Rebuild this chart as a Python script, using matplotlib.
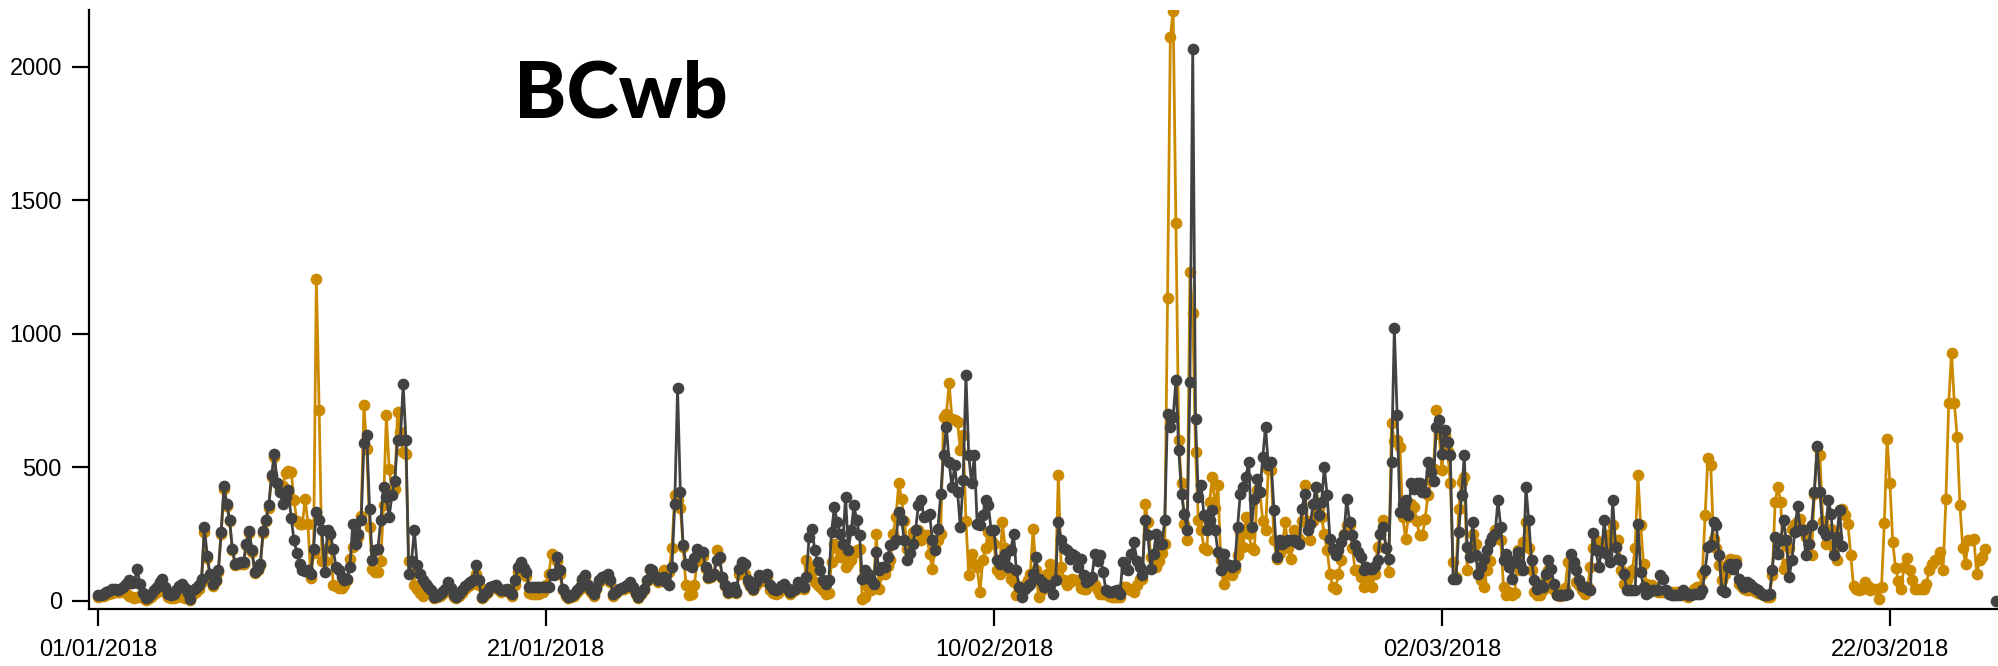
import numpy as np
import pandas as pd
import matplotlib
matplotlib.use('Agg')
import matplotlib.pyplot as plt
import matplotlib.dates as mdates

# ---------------- data (3-hourly samples starting 01/01/2018 00:00) ----------------
start_time = '2018-01-01 00:00'
step = '3h'
n_steps = 679

title_text = 'BCwb'

# dark grey series
dark_values = [
    21, 24, 27, 33, 38, 46, 44, 40,
    45, 52, 65, 77, 68, 70, 121, 65,
    30, 10, 15, 27, 40, 52, 70, 83,
    52, 25, 22, 27, 40, 55, 65, 50,
    30, 8, 40, 50, 60, 83, 277, 170,
    100, 62, 80, 115, 258, 430, 365, 305,
    195, 140, 143, 146, 146, 215, 262, 190,
    110, 120, 140, 262, 305, 358, 471, 552,
    440, 408, 365, 390, 415, 310, 230, 180,
    140, 115, 112, 115, 102, 196, 333, 302,
    265, 108, 265, 252, 196, 127, 115, 90,
    77, 83, 127, 290, 215, 252, 302, 590,
    621, 346, 152, 190, 196, 302, 427, 390,
    315, 396, 450, 602, 602, 812, 602, 100,
    150, 265, 135, 100, 77, 64, 52, 40,
    15, 20, 27, 35, 46, 71, 50, 21,
    15, 25, 40, 55, 65, 70, 77, 133,
    77, 15, 25, 33, 52, 55, 58, 50,
    40, 43, 46, 35, 27, 77, 127, 146,
    125, 108, 52, 52, 52, 52, 52, 52,
    52, 52, 102, 96, 165, 115, 46, 25,
    15, 20, 27, 40, 52, 83, 96, 58,
    40, 27, 50, 77, 90, 95, 102, 77,
    27, 35, 46, 50, 52, 60, 71, 52,
    30, 15, 30, 46, 80, 121, 115, 95,
    77, 85, 90, 70, 58, 127, 365, 796,
    408, 208, 140, 135, 127, 160, 196, 183,
    183, 127, 90, 95, 102, 152, 165, 90,
    60, 33, 45, 52, 33, 120, 146, 140,
    77, 60, 46, 70, 96, 93, 90, 102,
    58, 45, 40, 46, 55, 65, 50, 33,
    40, 46, 71, 60, 52, 90, 240, 271,
    190, 146, 115, 77, 65, 77, 258, 352,
    296, 252, 215, 390, 190, 265, 358, 302,
    246, 83, 115, 102, 80, 65, 183, 115,
    127, 127, 165, 208, 215, 227, 333, 302,
    227, 152, 180, 215, 265, 358, 377, 315,
    320, 327, 230, 190, 271, 400, 546, 652,
    521, 427, 508, 408, 277, 452, 846, 546,
    440, 546, 290, 284, 321, 377, 358, 265,
    265, 152, 140, 150, 177, 127, 190, 252,
    115, 52, 15, 46, 55, 65, 102, 165,
    83, 70, 52, 55, 58, 27, 77, 296,
    227, 200, 190, 158, 177, 170, 127, 158,
    96, 71, 80, 90, 177, 150, 171, 108,
    40, 35, 33, 38, 40, 27, 146, 120,
    115, 177, 221, 150, 127, 96, 302, 246,
    121, 177, 252, 215, 215, 302, 702, 652,
    690, 827, 565, 402, 327, 265, 821, 2068,
    683, 390, 433, 321, 265, 302, 340, 265,
    183, 115, 177, 140, 135, 127, 133, 277,
    402, 427, 465, 521, 277, 383, 458, 408,
    540, 652, 508, 521, 340, 165, 227, 215,
    220, 227, 230, 227, 220, 215, 346, 402,
    265, 290, 365, 427, 321, 371, 502, 396,
    233, 196, 171, 190, 221, 246, 383, 296,
    246, 208, 185, 165, 115, 127, 121, 121,
    130, 152, 252, 277, 200, 158, 521, 1023,
    696, 333, 365, 377, 321, 440, 420, 440,
    440, 408, 408, 521, 483, 450, 652, 677,
    552, 640, 596, 546, 83, 83, 258, 396,
    546, 202, 165, 296, 171, 102, 127, 158,
    190, 221, 240, 252, 377, 277, 152, 177,
    127, 83, 152, 183, 140, 115, 427, 302,
    152, 77, 46, 58, 52, 100, 152, 121,
    65, 21, 21, 21, 24, 27, 177, 146,
    115, 77, 55, 52, 46, 40, 255, 190,
    127, 183, 302, 177, 146, 380, 202, 158,
    152, 102, 40, 40, 40, 40, 290, 108,
    52, 27, 35, 40, 40, 40, 96, 83,
    40, 27, 21, 21, 21, 21, 40, 30,
    21, 24, 27, 27, 27, 40, 115, 202,
    208, 296, 283, 171, 40, 33, 127, 140,
    121, 140, 83, 65, 52, 71, 65, 52,
    45, 40, 30, 21, 24, 27, 117, 240,
    177, 227, 302, 227, 90, 152, 258, 355,
    265, 265, 171, 215, 283, 408, 580, 408,
    265, 246, 377, 327, 171, 240, 340, 205,
]
dark_final_value = 0   # isolated last sample of the dark series

# orange series
orange_values = [
    15, 18, 20, 25, 28, 30, 32, 35,
    35, 40, 30, 20, 15, 10, 15, 20,
    10, 5, 8, 15, 25, 35, 50, 60,
    35, 15, 10, 10, 15, 20, 15, 10,
    20, 5, 25, 35, 45, 70, 260, 160,
    90, 55, 75, 110, 250, 420, 355, 300,
    190, 135, 140, 140, 140, 210, 255, 185,
    105, 115, 135, 255, 300, 350, 465, 540,
    440, 420, 430, 480, 485, 483, 380, 300,
    290, 290, 383, 290, 85, 180, 1205, 717,
    150, 150, 200, 250, 60, 55, 50, 50,
    60, 77, 158, 202, 220, 240, 320, 733,
    571, 277, 121, 110, 108, 150, 358, 696,
    496, 415, 420, 708, 633, 558, 552, 150,
    102, 60, 46, 30, 20, 35, 40, 30,
    10, 15, 20, 25, 35, 55, 40, 15,
    10, 20, 30, 45, 55, 60, 70, 100,
    60, 10, 20, 30, 45, 50, 55, 45,
    35, 40, 40, 30, 20, 60, 110, 130,
    110, 95, 30, 27, 25, 27, 30, 35,
    60, 100, 177, 170, 150, 100, 40, 20,
    10, 15, 20, 35, 45, 75, 90, 50,
    35, 20, 45, 70, 85, 90, 95, 70,
    20, 30, 40, 45, 45, 55, 65, 45,
    25, 10, 25, 40, 75, 115, 110, 90,
    70, 80, 115, 100, 110, 200, 396, 380,
    350, 202, 58, 21, 27, 60, 150, 170,
    170, 120, 85, 90, 100, 190, 160, 85,
    55, 30, 40, 45, 30, 100, 140, 100,
    70, 55, 40, 60, 85, 80, 75, 90,
    40, 30, 25, 30, 40, 50, 40, 25,
    35, 40, 60, 50, 45, 152, 130, 108,
    71, 60, 52, 40, 27, 30, 146, 215,
    200, 165, 170, 127, 140, 152, 180, 190,
    196, 8, 15, 52, 40, 52, 252, 46,
    100, 102, 130, 152, 250, 315, 440, 383,
    300, 196, 230, 258, 265, 265, 227, 246,
    246, 177, 121, 200, 227, 252, 690, 700,
    815, 683, 677, 671, 565, 621, 300, 96,
    177, 140, 127, 33, 152, 200, 258, 230,
    215, 115, 102, 296, 200, 115, 83, 70,
    21, 30, 52, 60, 80, 102, 271, 115,
    15, 40, 80, 100, 140, 115, 90, 471,
    127, 80, 58, 70, 83, 80, 77, 50,
    46, 46, 60, 77, 60, 40, 27, 27,
    27, 20, 15, 15, 15, 15, 52, 52,
    45, 40, 33, 60, 83, 83, 365, 296,
    165, 140, 127, 150, 180, 215, 1133, 2111,
    2211, 1416, 602, 440, 290, 227, 1233, 1078,
    558, 302, 265, 200, 190, 371, 465, 350,
    433, 152, 65, 102, 100, 96, 120, 171,
    258, 202, 315, 250, 200, 190, 415, 408,
    300, 265, 496, 490, 227, 158, 180, 200,
    296, 200, 158, 265, 250, 233, 300, 433,
    300, 227, 300, 427, 350, 315, 250, 190,
    102, 52, 46, 100, 152, 252, 283, 283,
    200, 115, 115, 90, 52, 77, 60, 52,
    100, 202, 250, 302, 200, 108, 665, 600,
    602, 577, 315, 233, 315, 365, 352, 300,
    246, 246, 308, 396, 450, 496, 715, 627,
    490, 621, 560, 440, 146, 90, 346, 446,
    465, 115, 200, 252, 215, 102, 80, 52,
    115, 150, 230, 265, 270, 227, 52, 21,
    33, 21, 30, 190, 115, 221, 296, 200,
    115, 33, 21, 21, 40, 90, 115, 52,
    40, 21, 18, 21, 50, 146, 152, 140,
    71, 58, 40, 27, 52, 127, 200, 227,
    200, 196, 210, 227, 250, 283, 202, 227,
    115, 65, 80, 100, 115, 200, 471, 283,
    140, 65, 60, 58, 45, 33, 33, 33,
    33, 33, 33, 30, 33, 33, 33, 20,
    15, 30, 46, 52, 52, 100, 321, 537,
    508, 233, 200, 133, 77, 100, 140, 158,
    152, 152, 65, 52, 45, 40, 40, 40,
    35, 30, 27, 22, 15, 15, 96, 371,
    427, 371, 121, 140, 200, 271, 290, 300,
    308, 270, 240, 215, 171, 400, 577, 546,
    300, 215, 265, 271, 200, 152, 340, 346,
    321, 290, 171, 55, 45, 40, 46, 71,
    55, 40, 46, 46, 8, 52, 292, 608,
    440, 221, 125, 75, 46, 127, 161, 115,
    77, 46, 46, 46, 46, 65, 115, 137,
    152, 159, 183, 117, 383, 740, 930, 742,
    615, 358, 200, 140, 227, 230, 233, 102,
    152, 165, 196,
]

y_ticks = [0, 500, 1000, 1500, 2000]
x_tick_dates = ['2018-01-01', '2018-01-21', '2018-02-10', '2018-03-02', '2018-03-22']
x_tick_labels = ['01/01/2018', '21/01/2018', '10/02/2018', '02/03/2018', '22/03/2018']

# ---------------- build series ----------------
times = pd.date_range(start_time, periods=n_steps, freq=step)
dark = np.full(n_steps, np.nan)
dark[:len(dark_values)] = dark_values
dark[-1] = dark_final_value
orange = np.full(n_steps, np.nan)
orange[:len(orange_values)] = orange_values

ORANGE = '#CC8A00'
DARK = '#424242'

fig = plt.figure(figsize=(19.98, 6.66), dpi=100)
ax = fig.add_axes([89 / 1998, 1 - 609 / 666, 1 - 89 / 1998, (609 - 10) / 666])

xt = mdates.date2num(times.to_pydatetime())
ax.plot(xt, orange, color=ORANGE, lw=2.0, marker='o', ms=7.4, mec=ORANGE, mfc=ORANGE, zorder=2)
ax.plot(xt, dark, color=DARK, lw=2.0, marker='o', ms=7.4, mec=DARK, mfc=DARK, zorder=3)

t0 = xt[0]
dstep = 3 / 24
ax.set_xlim(t0 - 3.2 * dstep, t0 + 678.6 * dstep)
ax.set_ylim(-30, 2213)

ax.set_yticks(y_ticks)
ax.set_yticklabels([str(v) for v in y_ticks])
ax.set_xticks([mdates.date2num(pd.Timestamp(d).to_pydatetime()) for d in x_tick_dates])
ax.set_xticklabels(x_tick_labels)

for s in ['top', 'right']:
    ax.spines[s].set_visible(False)
for s in ['left', 'bottom']:
    ax.spines[s].set_linewidth(1.6)
    ax.spines[s].set_color('black')

ax.tick_params(axis='both', length=12.5, width=1.6, color='black', labelsize=17,
               labelcolor='black')
ax.tick_params(axis='y', pad=7)
ax.tick_params(axis='x', pad=9)
for lab in ax.get_xticklabels() + ax.get_yticklabels():
    lab.set_fontfamily(['Liberation Sans', 'DejaVu Sans'])

fig.text(621 / 1998, 1 - 118 / 666, title_text, ha='center', va='baseline',
         fontsize=57, fontweight='black', family=['Lato', 'DejaVu Sans'], color='black')

fig.savefig('out.png', dpi=100)
